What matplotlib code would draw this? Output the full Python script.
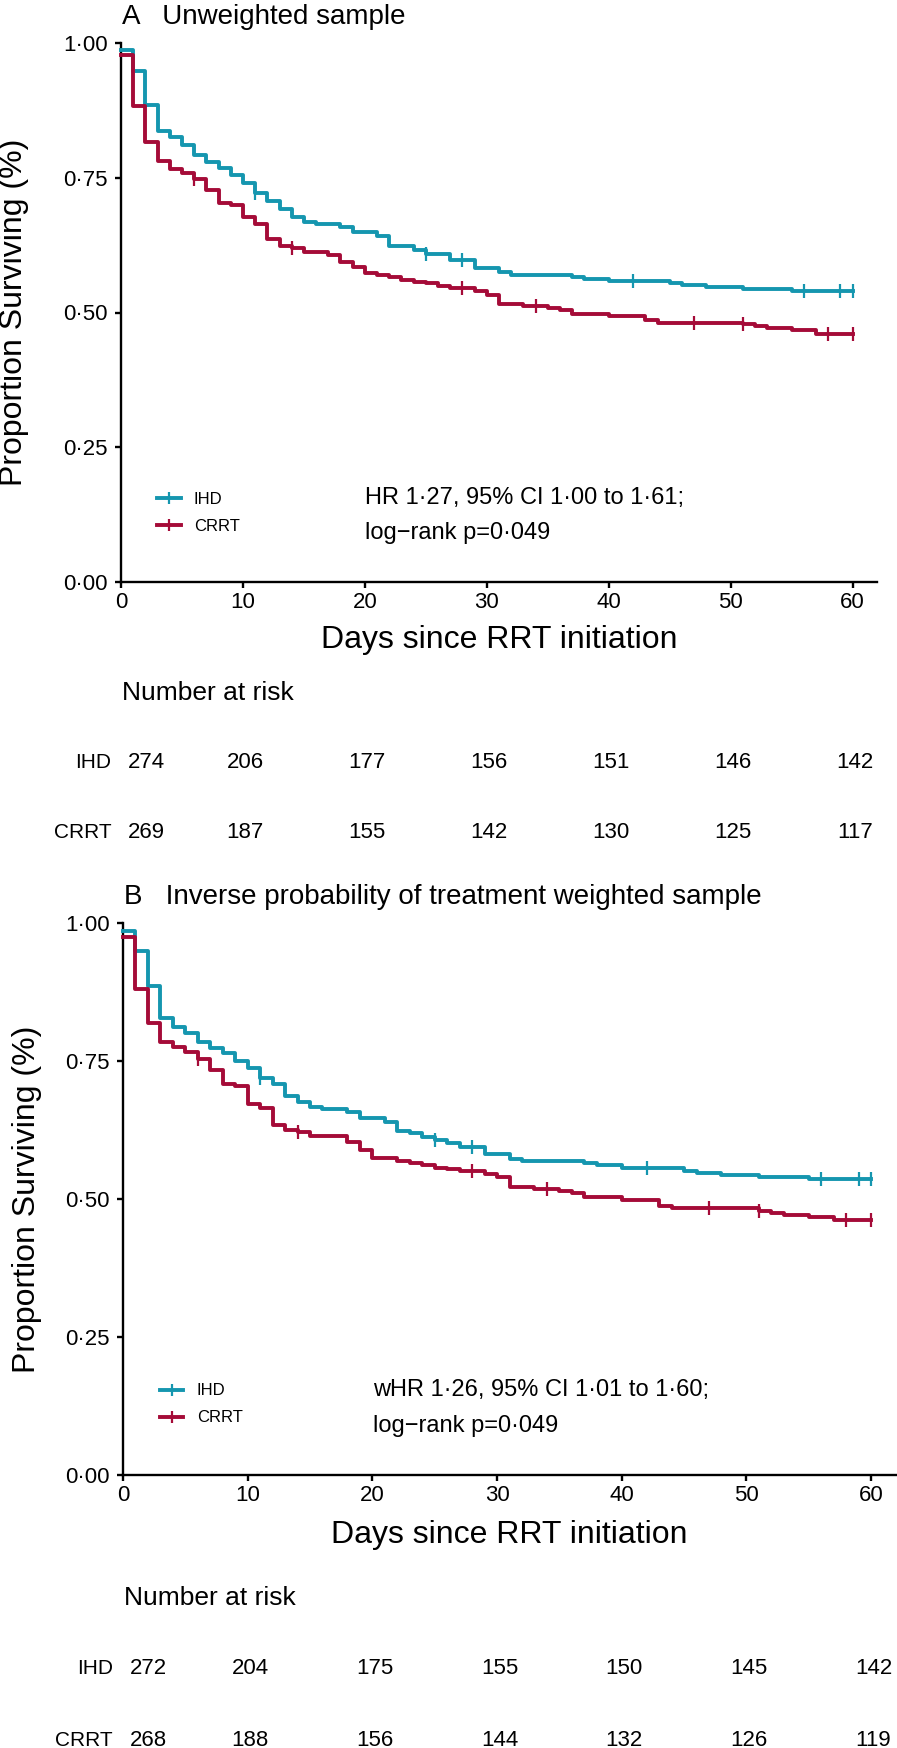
import matplotlib
matplotlib.use("Agg")
import matplotlib.pyplot as plt
import matplotlib.transforms as mtransforms
from matplotlib.lines import Line2D
from matplotlib.ticker import FuncFormatter
import numpy as np

plt.rcParams["font.family"] = ["Liberation Sans", "DejaVu Sans"]

W, H = 897, 1748
TEAL, CRIMSON = "#1596AF", "#A50B38"
GROUPS = ["IHD", "CRRT"]
RISK_DAYS = [0, 10, 20, 30, 40, 50, 60]

# Panel A: unweighted sample
ihd_a_t = [0, 1, 2, 3, 4, 5, 6, 7, 8, 9, 10, 11, 12, 13, 14, 15, 16, 18, 19, 21, 22, 24, 25, 27,
           29, 31, 32, 37, 38, 40, 45, 46, 48, 51, 55, 60]
ihd_a_s = [0.987, 0.948, 0.885, 0.837, 0.826, 0.811, 0.792, 0.780, 0.769, 0.755, 0.740, 0.721,
           0.707, 0.692, 0.678, 0.667, 0.664, 0.659, 0.650, 0.642, 0.624, 0.616, 0.608, 0.597,
           0.582, 0.576, 0.569, 0.565, 0.562, 0.558, 0.555, 0.551, 0.547, 0.543, 0.540, 0.540]
crrt_a_t = [0, 1, 2, 3, 4, 5, 6, 7, 8, 9, 10, 11, 12, 13, 14, 15, 17, 18, 19, 20, 21, 22, 23, 24,
            25, 26, 27, 29, 30, 31, 33, 35, 36, 37, 40, 43, 44, 51, 52, 53, 55, 57, 60]
crrt_a_s = [0.978, 0.883, 0.817, 0.782, 0.767, 0.758, 0.748, 0.727, 0.704, 0.699, 0.678, 0.664,
            0.636, 0.624, 0.619, 0.612, 0.607, 0.594, 0.584, 0.573, 0.570, 0.565, 0.561, 0.557,
            0.554, 0.549, 0.545, 0.540, 0.532, 0.516, 0.512, 0.508, 0.505, 0.497, 0.494, 0.486,
            0.481, 0.479, 0.475, 0.472, 0.468, 0.460, 0.460]
ihd_a_cens = [11, 25, 28, 42, 56, 59, 60]
crrt_a_cens = [6, 14, 28, 34, 47, 51, 58, 60]
risk_a_ihd = [274, 206, 177, 156, 151, 146, 142]
risk_a_crrt = [269, 187, 155, 142, 130, 125, 117]

# Panel B: inverse probability of treatment weighted sample
ihd_b_t = [0, 1, 2, 3, 4, 5, 6, 7, 8, 9, 10, 11, 12, 13, 14, 15, 16, 18, 19, 21, 22, 23, 24, 25,
           26, 27, 29, 31, 32, 37, 38, 40, 45, 46, 48, 51, 55, 60]
ihd_b_s = [0.986, 0.949, 0.885, 0.828, 0.812, 0.800, 0.784, 0.773, 0.765, 0.750, 0.737, 0.720,
           0.709, 0.687, 0.675, 0.666, 0.663, 0.658, 0.647, 0.640, 0.624, 0.620, 0.612, 0.607,
           0.602, 0.595, 0.581, 0.572, 0.569, 0.566, 0.562, 0.556, 0.551, 0.548, 0.543, 0.540,
           0.537, 0.537]
crrt_b_t = [0, 1, 2, 3, 4, 5, 6, 7, 8, 9, 10, 11, 12, 13, 14, 15, 18, 19, 20, 22, 23, 24, 25, 26,
            27, 29, 30, 31, 33, 35, 36, 37, 40, 43, 44, 51, 52, 53, 55, 57, 60]
crrt_b_s = [0.975, 0.880, 0.818, 0.785, 0.776, 0.766, 0.754, 0.733, 0.708, 0.705, 0.673, 0.664,
            0.634, 0.625, 0.622, 0.615, 0.603, 0.588, 0.575, 0.569, 0.565, 0.562, 0.557, 0.554,
            0.550, 0.546, 0.539, 0.522, 0.519, 0.515, 0.510, 0.503, 0.499, 0.487, 0.483, 0.479,
            0.474, 0.471, 0.468, 0.462, 0.462]
ihd_b_cens = [11, 25, 28, 42, 56, 59, 60]
crrt_b_cens = [6, 14, 28, 34, 47, 51, 58, 60]
risk_b_ihd = [272, 204, 175, 155, 150, 145, 142]
risk_b_crrt = [268, 188, 156, 144, 132, 126, 119]

stats_a = ["HR 1\u00b727, 95% CI 1\u00b700 to 1\u00b761;", "log\u2212rank p=0\u00b7049"]
stats_b = ["wHR 1\u00b726, 95% CI 1\u00b701 to 1\u00b760;", "log\u2212rank p=0\u00b7049"]


def fy(y):
    """pixel row from top -> figure fraction"""
    return 1 - y / H


def step_at(t, s, x):
    i = np.searchsorted(t, x, side="right") - 1
    return np.asarray(s)[i]


def panel(fig, box, title, curves, stats, risks, rows):
    left, right, top, bottom = box
    ax = fig.add_axes([left / W, fy(bottom), (right - left) / W, (bottom - top) / H])
    for (t, s, cens), col in zip(curves, [TEAL, CRIMSON]):
        ax.step(t, s, where="post", color=col, lw=2.8, clip_on=False, zorder=3)
        ax.plot(cens, step_at(t, s, cens), ls="none", marker="|", ms=9.5, mew=1.6,
                color=col, clip_on=False, zorder=4)
    ax.set_xlim(0, 62)
    ax.set_ylim(0, 1)
    ax.set_xticks(RISK_DAYS)
    ax.set_yticks([0, 0.25, 0.5, 0.75, 1.0])
    ax.yaxis.set_major_formatter(FuncFormatter(lambda v, p: f"{v:.2f}".replace(".", "\u00b7")))
    for sp in ["top", "right"]:
        ax.spines[sp].set_visible(False)
    for sp in ["left", "bottom"]:
        ax.spines[sp].set_linewidth(1.7)
    ax.tick_params(width=1.7, length=4.5, labelsize=16)
    ax.tick_params(axis="y", pad=5)
    ax.tick_params(axis="x", pad=3)

    ax.set_ylabel("Proportion Surviving (%)", fontsize=23)
    ax.yaxis.label.set_va("center")
    ax.yaxis.set_label_coords(rows["ylab_x"], 0.5)
    ax.set_xlabel("Days since RRT initiation", fontsize=23)
    ax.xaxis.label.set_va("center")
    ax.xaxis.set_label_coords(0.5, (bottom - rows["xlab"]) / (bottom - top))

    fig.text((left + 1) / W, fy(top - 26), title, fontsize=20, va="center", ha="left")

    handles = [Line2D([], [], color=c, lw=2.8, marker="|", ms=9, mew=1.6)
               for c in [TEAL, CRIMSON]]
    ax.legend(handles, GROUPS, loc="center left", bbox_to_anchor=(0.048, 0.128),
              frameon=False, fontsize=12, handlelength=1.4, handletextpad=0.8,
              labelspacing=0.72, borderpad=0, borderaxespad=0)
    for txt, yy in zip(stats, rows["stats"]):
        ax.text(0.323, (bottom - yy) / (bottom - top), txt, transform=ax.transAxes,
                fontsize=17, va="center", ha="left")

    trans = mtransforms.blended_transform_factory(ax.transData, fig.transFigure)
    ax.text(0.05, fy(rows["nar"]), "Number at risk", transform=trans, fontsize=19,
            va="center", ha="left")
    for name, counts, yy in zip(GROUPS, risks, rows["risk"]):
        ax.text(-0.8, fy(yy), name, transform=trans, fontsize=15, va="center", ha="right")
        for d, n in zip(RISK_DAYS, counts):
            if d == 0:
                ax.text(0.55, fy(yy), str(n), transform=trans, fontsize=16,
                        va="center", ha="left")
            else:
                ax.text(d + 0.2, fy(yy), str(n), transform=trans, fontsize=16,
                        va="center", ha="center")
    return ax


fig = plt.figure(figsize=(W / 100, H / 100), dpi=100)

panel(fig, (121, 877, 43, 582), "A   Unweighted sample",
      [(ihd_a_t, ihd_a_s, ihd_a_cens), (crrt_a_t, crrt_a_s, crrt_a_cens)],
      stats_a, [risk_a_ihd, risk_a_crrt],
      {"ylab_x": -0.142, "xlab": 640, "stats": [498, 533], "nar": 693, "risk": [762, 832]})

panel(fig, (123, 896, 923, 1475), "B   Inverse probability of treatment weighted sample",
      [(ihd_b_t, ihd_b_s, ihd_b_cens), (crrt_b_t, crrt_b_s, crrt_b_cens)],
      stats_b, [risk_b_ihd, risk_b_crrt],
      {"ylab_x": -0.124, "xlab": 1535, "stats": [1390, 1426], "nar": 1598, "risk": [1668, 1740]})

fig.savefig("out.png", dpi=100)
